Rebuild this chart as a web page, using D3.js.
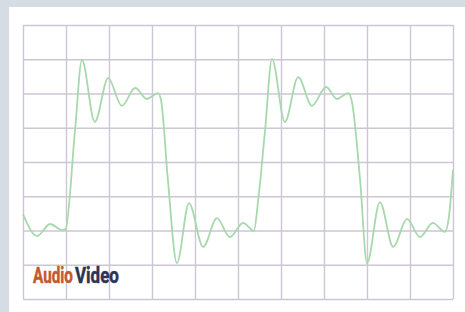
<!DOCTYPE html>
<html>
<head>
<meta charset="utf-8">
<script src="https://cdn.jsdelivr.net/npm/d3@7"></script>
<style>
  html, body { margin: 0; padding: 0; background: #d5dce4; }
  svg { display: block; }
</style>
</head>
<body>
<div id="scope"></div>
<script>
// scope screen: 10 x 8 divisions
var gridX = [0, 1, 2, 3, 4, 5, 6, 7, 8, 9, 10];
var gridY = [0, 1, 2, 3, 4, 5, 6, 7, 8];

// square wave with ringing (time / level in divisions)
var waveTime = [0, 0.33, 0.63, 0.91, 0.99, 1.21, 1.37, 1.67, 1.98, 2.30, 2.61, 2.88, 3.14, 3.21, 3.37, 3.58,
  3.86, 4.19, 4.51, 4.81, 5.12, 5.37, 5.47, 5.63, 5.79, 6.09, 6.40, 6.72, 7.05, 7.30, 7.56, 7.65, 7.84, 8.00,
  8.30, 8.61, 8.93, 9.23, 9.53, 9.81, 9.91, 10];
var waveLevel = [2.48, 1.84, 2.19, 2.01, 2.04, 4.93, 6.98, 5.17, 6.45, 5.64, 6.16, 5.84, 6.01, 5.81, 3.47, 1.05,
  2.80, 1.52, 2.36, 1.81, 2.22, 1.99, 2.89, 4.93, 7.01, 5.17, 6.48, 5.64, 6.19, 5.84, 6.01, 5.75, 3.47, 1.05,
  2.83, 1.52, 2.34, 1.81, 2.22, 1.96, 2.45, 3.77];

var logoParts = ["Audio", "Video"];

var W = 465, H = 312;
var margin = { top: 25, left: 23, right: 12, bottom: 13 };
var width = W - margin.left - margin.right;
var height = H - margin.top - margin.bottom;

var svg = d3.select("#scope").append("svg")
  .attr("width", W)
  .attr("height", H);

// white panel
svg.append("rect")
  .attr("x", 9).attr("y", 7)
  .attr("width", W - 9).attr("height", H - 7)
  .attr("fill", "#ffffff");

var g = svg.append("g").attr("transform", "translate(" + margin.left + "," + margin.top + ")");

var x = d3.scaleLinear().domain([0, 10]).range([0, width]);
var y = d3.scaleLinear().domain([0, 8]).range([height, 0]);

// graticule
var gridColor = "#ccc6d5";
g.append("g")
  .attr("class", "grid x")
  .attr("transform", "translate(0," + height + ")")
  .call(d3.axisBottom(x).tickValues(gridX).tickSize(-height).tickFormat(""))
  .call(function(s) {
    s.select(".domain").remove();
    s.selectAll("line").attr("stroke", gridColor).attr("stroke-width", 1.4);
  });

g.append("g")
  .attr("class", "grid y")
  .call(d3.axisLeft(y).tickValues(gridY).tickSize(-width).tickFormat(""))
  .call(function(s) {
    s.select(".domain").remove();
    s.selectAll("line").attr("stroke", gridColor).attr("stroke-width", 1.4);
  });

// trace
var pts = waveTime.map(function(t, i) { return { t: t, v: waveLevel[i] }; });

var line = d3.line()
  .curve(d3.curveMonotoneX)
  .x(function(d) { return x(d.t); })
  .y(function(d) { return y(d.v); });

g.append("path")
  .datum(pts)
  .attr("d", line)
  .attr("fill", "none")
  .attr("stroke", "#a8d8ad")
  .attr("stroke-width", 1.8)
  .attr("stroke-linejoin", "round");

// logo, two words side by side, squeezed horizontally
var logoFont = "'Liberation Sans Narrow', 'Arial Narrow', 'Roboto', sans-serif";
var logoBox = [[33, 40, "#c4582f"], [75, 44, "#2f3352"]];
logoParts.forEach(function(word, i) {
  var t = svg.append("text")
    .attr("font-family", logoFont)
    .attr("font-weight", "bold")
    .attr("font-size", 22)
    .attr("fill", logoBox[i][2])
    .attr("stroke", logoBox[i][2])
    .attr("stroke-width", 0.5)
    .text(word);
  var w = t.node().getComputedTextLength();
  var sx = logoBox[i][1] / w;
  t.attr("transform", "translate(" + logoBox[i][0] + ",283) scale(" + sx + ",1)");
});
</script>
</body>
</html>
